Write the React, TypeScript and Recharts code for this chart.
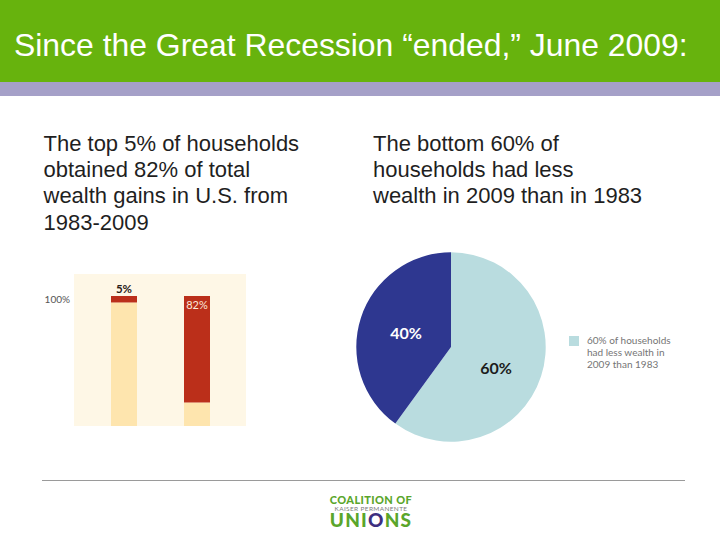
import React from "react";
import { BarChart, Bar, XAxis, YAxis, CartesianGrid, PieChart, Pie, Cell, Legend } from "recharts";

const title = "Since the Great Recession “ended,” June 2009:";
const leftLines = ["The top 5% of households", "obtained 82% of total", "wealth gains in U.S. from", "1983-2009"];
const rightLines = ["The bottom 60% of", "households had less", "wealth in 2009 than in 1983"];

const barGroups = ["Share of households", "Share of wealth gains"];
const remainderValues = [95, 18];
const highlightValues = [5, 82];
const barLabels = ["5%", "82%"];
const barTicks = [100];

const pieNames = ["60% of households had less wealth in 2009 than 1983", "Other households"];
const pieValues = [60, 40];
const pieLabels = ["60%", "40%"];
const pieColors = ["#b9dcdf", "#2e3790"];
const pieLabelColors = ["#1c1c1c", "#ffffff"];

const barData = barGroups.map((group, i) => ({
  group,
  remainder: remainderValues[i],
  highlight: highlightValues[i],
  label: barLabels[i],
}));
const pieData = pieNames.map((name, i) => ({ name, value: pieValues[i] }));

const abs = (left: number, top: number, extra: React.CSSProperties = {}): React.CSSProperties => ({
  position: "absolute",
  left,
  top,
  ...extra,
});

const bodyStyle: React.CSSProperties = {
  fontFamily: "Liberation Sans",
  fontSize: 22,
  lineHeight: "26.4px",
  color: "#1f1f1f",
  whiteSpace: "nowrap",
};

const BarValueLabel = (props: any) => {
  const { x, y, width, index } = props;
  const first = index === 0;
  return (
    <text
      x={x + width / 2}
      y={first ? y - 3 : y + 13}
      textAnchor="middle"
      fontFamily="Lato"
      fontSize={first ? 11.5 : 11}
      fontWeight={first ? 700 : 400}
      fill={first ? "#2a2118" : "#fbe9da"}
    >
      {barLabels[index]}
    </text>
  );
};

const HundredTick = (props: any) => {
  const { x, y, payload } = props;
  return (
    <text x={x + 4} y={y + 7} textAnchor="end" fontFamily="Lato" fontSize={10} fill="#555555">
      {payload.value}%
    </text>
  );
};

const PieValueLabel = (props: any) => {
  const { cx, cy, midAngle, outerRadius, index } = props;
  const r = outerRadius * 0.5;
  const a = (midAngle * Math.PI) / 180;
  return (
    <text
      x={cx + r * Math.cos(a)}
      y={cy - r * Math.sin(a) + (index === 0 ? 6 : 0)}
      textAnchor="middle"
      dominantBaseline="central"
      fontFamily="Lato"
      fontWeight={700}
      fontSize={16}
      fill={pieLabelColors[index]}
    >
      {pieLabels[index]}
    </text>
  );
};

const PieLegend = (props: any) => {
  const item = props.payload?.[0];
  if (!item) return null;
  return (
    <div style={{ display: "flex", alignItems: "flex-start" }}>
      <div style={{ width: 10, height: 10, background: item.color, marginTop: 2, flex: "none" }} />
      <div
        style={{
          marginLeft: 8,
          width: 96,
          fontFamily: "Lato",
          fontSize: 10,
          lineHeight: "12px",
          color: "#757575",
          textAlign: "left",
        }}
      >
        {item.value}
      </div>
    </div>
  );
};

export default function App() {
  return (
    <div style={abs(0, 0, { width: 720, height: 540, background: "#fff", overflow: "hidden" })}>
      <div style={abs(0, 0, { width: 720, height: 82, background: "#67b30d" })} />
      <div style={abs(0, 82, { width: 720, height: 14, background: "#a5a0c8" })} />
      <div
        style={abs(14, 27, {
          fontFamily: "Liberation Sans",
          fontSize: 31.9,
          lineHeight: "36px",
          color: "#ffffff",
          whiteSpace: "nowrap",
        })}
      >
        {title}
      </div>
      <div style={abs(43.5, 130.5, bodyStyle)}>
        {leftLines.map((l) => (
          <div key={l}>{l}</div>
        ))}
      </div>
      <div style={abs(373, 130.5, bodyStyle)}>
        {rightLines.map((l) => (
          <div key={l}>{l}</div>
        ))}
      </div>

      <div style={abs(40, 274)}>
        <BarChart
          width={206}
          height={152}
          data={barData}
          margin={{ top: 0, right: 0, bottom: 0, left: 0 }}
          barCategoryGap={0}
        >
          <CartesianGrid horizontal={false} vertical={false} fill="#fef7e6" fillOpacity={1} stroke="none" />
          <XAxis dataKey="group" hide padding={{ left: 13, right: 13 }} />
          <YAxis
            width={34}
            domain={[0, 116.9]}
            ticks={barTicks}
            axisLine={false}
            tickLine={false}
            tick={<HundredTick />}
            allowDataOverflow
          />
          <Bar dataKey="remainder" stackId="a" fill="#fee5ae" barSize={26} isAnimationActive={false} />
          <Bar
            dataKey="highlight"
            stackId="a"
            fill="#bb2f1a"
            barSize={26}
            isAnimationActive={false}
            label={<BarValueLabel />}
          />
        </BarChart>
      </div>

      <div style={abs(340, 240)}>
        <PieChart width={350} height={210} margin={{ top: 0, right: 0, bottom: 0, left: 0 }}>
          <Pie
            data={pieData}
            dataKey="value"
            nameKey="name"
            cx={111}
            cy={107}
            outerRadius={94.7}
            startAngle={90}
            endAngle={-270}
            stroke="none"
            label={<PieValueLabel />}
            labelLine={false}
            isAnimationActive={false}
          >
            {pieData.map((d, i) => (
              <Cell key={d.name} fill={pieColors[i]} />
            ))}
          </Pie>
          <Legend
            content={<PieLegend />}
            wrapperStyle={{ position: "absolute", left: 229, top: 94, width: 118, bottom: "auto" }}
          />
        </PieChart>
      </div>

      <div style={abs(42, 480, { width: 643, height: 1, background: "#9a9a9a" })} />
      <div style={abs(301, 494, { width: 140, textAlign: "center", fontFamily: "Lato", fontWeight: 900, color: "#5aa62b", whiteSpace: "nowrap" })}>
        <div style={{ fontSize: 11, lineHeight: "11px", letterSpacing: 0.4 }}>COALITION OF</div>
        <div style={{ fontSize: 6.5, lineHeight: "7px", fontWeight: 400, color: "#7d7d7d", letterSpacing: 0.35 }}>KAISER PERMANENTE</div>
        <div style={{ fontSize: 19, lineHeight: "15px", letterSpacing: 1.2 }}>
          UNI<span style={{ color: "#3d2f7f" }}>O</span>NS
        </div>
      </div>
    </div>
  );
}
